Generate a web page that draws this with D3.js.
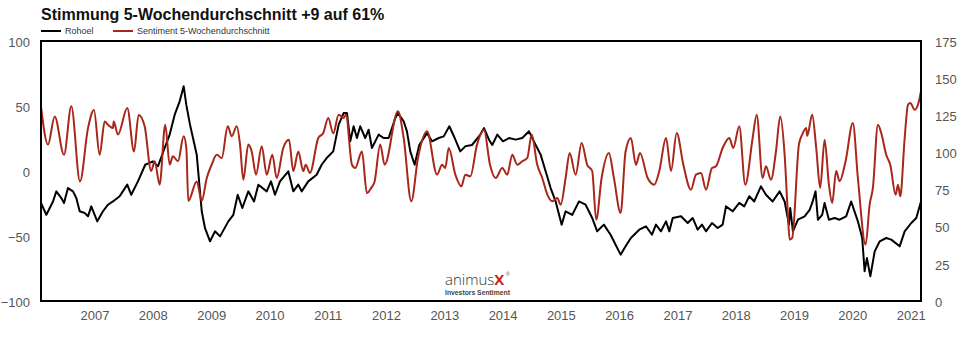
<!DOCTYPE html>
<html>
<head>
<meta charset="utf-8">
<script src="https://cdn.jsdelivr.net/npm/d3@7"></script>
<style>
  html, body { margin: 0; padding: 0; background: #fff; }
  svg { display: block; font-family: "Liberation Sans", Arial, Helvetica, sans-serif; }
</style>
</head>
<body>
<svg id="chart" width="968" height="337"></svg>
<script>
// ---- Data (decimal years) ----
const sentimentYears = [2006.082,2006.202,2006.317,2006.477,2006.602,2006.751,2006.889,2006.991,2007.089,2007.175,2007.232,2007.317,2007.33,2007.403,2007.563,2007.678,2007.758,2007.861,2007.974,2008.033,2008.118,2008.214,2008.29,2008.346,2008.432,2008.53,2008.575,2008.609,2008.753,2008.839,2008.925,2009.01,2009.096,2009.182,2009.285,2009.353,2009.439,2009.496,2009.552,2009.638,2009.696,2009.77,2009.868,2009.954,2010.05,2010.125,2010.238,2010.336,2010.41,2010.496,2010.581,2010.623,2010.696,2010.839,2010.924,2011.01,2011.096,2011.189,2011.274,2011.314,2011.417,2011.473,2011.588,2011.674,2011.748,2011.806,2011.902,2011.978,2012.206,2012.304,2012.434,2012.549,2012.703,2012.875,2012.961,2013.017,2013.075,2013.189,2013.292,2013.36,2013.446,2013.561,2013.681,2013.784,2013.882,2013.995,2014.081,2014.166,2014.252,2014.338,2014.424,2014.499,2014.595,2014.681,2014.767,2014.852,2014.938,2014.997,2015.082,2015.151,2015.254,2015.357,2015.453,2015.538,2015.607,2015.70,2015.825,2015.911,2016.026,2016.111,2016.202,2016.288,2016.357,2016.489,2016.602,2016.688,2016.803,2016.889,2016.986,2017.10,2017.231,2017.317,2017.403,2017.489,2017.592,2017.66,2017.775,2017.889,2017.957,2018.06,2018.163,2018.29,2018.359,2018.461,2018.518,2018.604,2018.69,2018.763,2018.839,2018.895,2018.925,2018.969,2019.084,2019.141,2019.209,2019.226,2019.312,2019.381,2019.449,2019.525,2019.599,2019.655,2019.724,2019.782,2019.885,2020.01,2020.096,2020.228,2020.297,2020.353,2020.439,2020.496,2020.581,2020.65,2020.743,2020.782,2020.822,2020.897,2020.954,2020.993,2021.069,2021.125,2021.177];
const sentimentValues = [49.8,20.3,42,12.5,49.8,-8,33,47,12.5,38,35.6,33,38,28,48.5,15,43,34.4,0,7.5,-10.5,35.6,5,11.3,7.5,26.7,17.7,-23,-8,-23,-5.4,5,12.5,10,34.4,26.7,34.4,20.3,-6.7,20.3,15,-2.8,19,-2.8,12.5,-5.4,17.7,24,0,15,0,4.8,-1.5,25.4,29.2,40.8,29,43.3,40.8,43.3,4.8,2.3,15,-17,-13,-8,20.3,4.8,46,25.4,-23.3,10,30.5,-2.8,4.8,2.3,17.7,-2.8,-11.8,-2.8,-4.1,20.3,31.8,4.8,-5.4,2.3,-2.8,12.5,4.8,7.5,10,28,4.8,-5.4,-18,-23.3,-20.8,-26,-5.4,13.8,-2.8,21.5,4.8,0,-37.4,-5.4,13.8,-5.4,-32.3,15,25.4,4.8,13.8,-5.4,-10.5,0,25.4,0,29.2,4.8,-14.4,-2.8,-1.5,-14.4,2.3,3.6,17.7,25.4,17.7,34.4,-10.5,25.4,43.3,-5.4,3.6,-6.7,15,42,12.5,-33.6,-52.8,-51.5,20.3,28,33,27,43.3,17.7,-13,24,-10.5,-24.6,0,-7.9,7.5,37,-5.4,-56.7,-26,-13,35.6,29.2,12.5,4.8,-18.2,-10.5,-19.5,25.4,51,52.3,47.2,51,61.3];

const oilYears = [2006.082,2006.174,2006.232,2006.288,2006.345,2006.431,2006.477,2006.545,2006.631,2006.688,2006.746,2006.832,2006.889,2006.945,2007.048,2007.146,2007.232,2007.317,2007.432,2007.563,2007.631,2007.746,2007.871,2008.003,2008.089,2008.204,2008.29,2008.376,2008.461,2008.53,2008.575,2008.638,2008.753,2008.839,2008.895,2008.981,2009.067,2009.153,2009.295,2009.381,2009.456,2009.535,2009.638,2009.736,2009.810,2009.954,2010.027,2010.096,2010.182,2010.324,2010.41,2010.496,2010.554,2010.667,2010.811,2010.897,2010.983,2011.096,2011.189,2011.274,2011.331,2011.388,2011.446,2011.503,2011.559,2011.645,2011.703,2011.76,2011.875,2011.961,2012.046,2012.16,2012.206,2012.304,2012.36,2012.417,2012.492,2012.571,2012.703,2012.789,2012.904,2012.99,2013.086,2013.178,2013.274,2013.36,2013.475,2013.618,2013.681,2013.767,2013.823,2013.909,2014.007,2014.11,2014.225,2014.338,2014.453,2014.568,2014.653,2014.739,2014.825,2014.911,2015.014,2015.082,2015.196,2015.311,2015.425,2015.538,2015.624,2015.739,2015.854,2015.94,2016.026,2016.111,2016.202,2016.345,2016.46,2016.563,2016.631,2016.717,2016.803,2016.86,2016.918,2017.06,2017.175,2017.26,2017.346,2017.42,2017.489,2017.592,2017.69,2017.775,2017.832,2017.947,2018.06,2018.146,2018.232,2018.317,2018.432,2018.518,2018.633,2018.753,2018.839,2018.913,2018.935,2018.981,2019.067,2019.182,2019.268,2019.312,2019.37,2019.41,2019.483,2019.525,2019.599,2019.696,2019.782,2019.895,2019.981,2020.096,2020.17,2020.211,2020.251,2020.309,2020.384,2020.47,2020.581,2020.667,2020.811,2020.897,2021.01,2021.096,2021.177];
const oilValues = [66,58,62.6,67,73.8,69.3,66,76,73.8,69.3,60.4,59.2,57,63.7,53.6,60.4,64.8,67,70.5,78.3,71.5,80.5,91.7,94,90.6,103,112,125.4,134.4,144.5,132,118.7,98.5,60.4,49,40.2,46.9,43.5,53.6,58,71.5,62.6,73.8,67,78.3,73.8,80.5,71.5,80.5,87.3,73.8,78.3,73.8,80.5,85,91.7,96.2,100.7,118.7,126.5,126.5,107.5,117.6,109.7,117.6,109.7,115.3,103,112,109.7,109.7,123,126.5,121,114.2,100.7,91.7,105,113,107.5,109.7,110.8,117.6,109.7,100.7,104.1,105,112,116.4,108.6,105,112,107.5,109.7,108.6,109.7,114.2,105,98.5,87.3,76,67,51.4,60.4,58,67,64.8,55.9,46.9,51.4,44.6,37.9,31.2,36.8,42.4,48,50.3,44.6,51.4,46.9,53.6,46.9,55.9,57,52.5,55.9,48,51.4,46.9,52.5,49.1,51.4,63.7,60.4,66,63.7,70.5,67,77.2,71.5,67,73.8,67,51.4,62.6,46.9,54.7,57,61.4,66,73.8,54.7,58,66,54.7,55.9,54.7,57,67,53.6,42.4,20,28.9,16.6,33.4,40.2,42.4,41.3,36.8,46.9,52.5,55.9,67];

const leftTicks = [-100, -50, 0, 50, 100];
const rightTicks = [0, 25, 50, 75, 100, 125, 150, 175];
const yearTicks = [2007,2008,2009,2010,2011,2012,2013,2014,2015,2016,2017,2018,2019,2020,2021];

const titleText = "Stimmung 5-Wochendurchschnitt +9 auf 61%";
const seriesNames = ["Rohoel", "Sentiment 5-Wochendurchschnitt"];

// ---- helpers ----
function decToDate(d) {
  const y = Math.floor(d);
  const start = Date.UTC(y, 0, 1), end = Date.UTC(y + 1, 0, 1);
  return new Date(start + (d - y) * (end - start));
}

const margin = { left: 41, right: 47, top: 41, bottom: 36 };
const W = 968, H = 337;
const x0 = margin.left, x1 = W - margin.right, y0 = margin.top, y1 = H - margin.bottom;

const svg = d3.select("#chart");

const x = d3.scaleUtc().domain([decToDate(2006.082), decToDate(2021.177)]).range([x0, x1]);
const yL = d3.scaleLinear().domain([-100, 100]).range([y1, y0]);
const yR = d3.scaleLinear().domain([0, 175]).range([y1, y0]);

const RED = "#a8271b";
const BLACK = "#000";

// clip
svg.append("clipPath").attr("id", "clip").append("rect")
  .attr("x", x0).attr("y", y0).attr("width", x1 - x0).attr("height", y1 - y0);

// title
svg.append("text").attr("x", 41).attr("y", 20)
  .attr("font-size", 16).attr("font-weight", "bold").attr("fill", "#111")
  .text(titleText);

// legend
const legend = svg.append("g").attr("font-size", 9).attr("fill", "#333");
legend.append("line").attr("x1", 41).attr("x2", 61).attr("y1", 31).attr("y2", 31)
  .attr("stroke", BLACK).attr("stroke-width", 2);
legend.append("text").attr("x", 65).attr("y", 34).text(seriesNames[0]);
legend.append("line").attr("x1", 113).attr("x2", 133).attr("y1", 31).attr("y2", 31)
  .attr("stroke", RED).attr("stroke-width", 2);
legend.append("text").attr("x", 137).attr("y", 34).text(seriesNames[1]);

// axes
const axisColor = "#555";
const gL = svg.append("g").attr("transform", `translate(${x0},1)`)
  .call(d3.axisLeft(yL).tickValues(leftTicks).tickSize(0).tickPadding(11).tickFormat(d3.format("d")));
const gR = svg.append("g").attr("transform", `translate(${x1},1)`)
  .call(d3.axisRight(yR).tickValues(rightTicks).tickSize(0).tickPadding(14).tickFormat(d3.format("d")));
const gB = svg.append("g").attr("transform", `translate(0,${y1})`)
  .call(d3.axisBottom(x).tickValues(yearTicks.map(yy => decToDate(yy))).tickSize(0).tickPadding(10)
    .tickFormat(d3.utcFormat("%Y")));
[gL, gR, gB].forEach(g => {
  g.select(".domain").remove();
  g.selectAll("text").attr("font-size", 13).attr("fill", axisColor)
    .attr("font-family", "'Liberation Sans', Arial, Helvetica, sans-serif");
});

// logo
const logo = svg.append("g");
const t1 = logo.append("text").attr("x", 445).attr("y", 285).attr("font-size", 15)
  .attr("font-weight", 300).attr("fill", "#333").attr("font-family", "'Open Sans', sans-serif");
t1.append("tspan").text("animus");
t1.append("tspan").attr("font-weight", "bold").attr("fill", "#c8281c").text("X");
logo.append("text").attr("x", 506).attr("y", 276).attr("font-size", 5).attr("fill", "#555").text("®");
logo.append("text").attr("x", 445).attr("y", 295).attr("font-size", 6.8).attr("font-weight", "bold")
  .attr("fill", "#444").text("Investors Sentiment");

// lines
const oilData = oilYears.map((d, i) => ({ date: decToDate(d), v: oilValues[i] }));
const sentData = sentimentYears.map((d, i) => ({ date: decToDate(d), v: sentimentValues[i] }));

const plot = svg.append("g").attr("clip-path", "url(#clip)");
plot.append("path").datum(oilData)
  .attr("fill", "none").attr("stroke", BLACK).attr("stroke-width", 2).attr("stroke-linejoin", "round")
  .attr("d", d3.line().x(d => x(d.date)).y(d => yR(d.v)));
plot.append("path").datum(sentData)
  .attr("fill", "none").attr("stroke", RED).attr("stroke-width", 2).attr("stroke-linejoin", "round")
  .attr("d", d3.line().curve(d3.curveMonotoneX).x(d => x(d.date)).y(d => yL(d.v)));

// frame
svg.append("rect").attr("x", x0).attr("y", y0).attr("width", x1 - x0).attr("height", y1 - y0)
  .attr("fill", "none").attr("stroke", "#000").attr("stroke-width", 2);
</script>
</body>
</html>
